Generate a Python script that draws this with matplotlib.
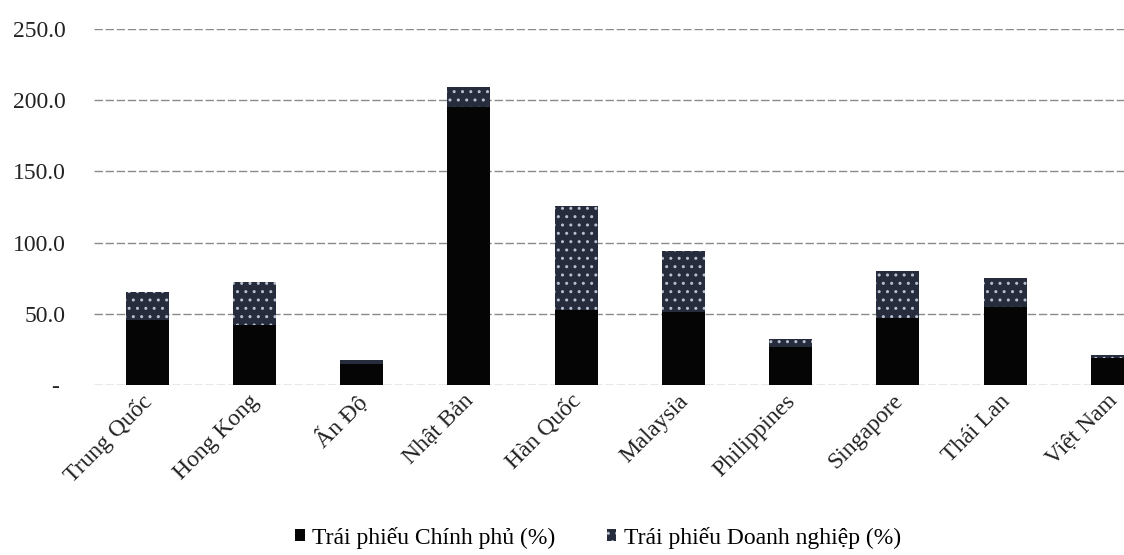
import numpy as np
import matplotlib
matplotlib.use("Agg")
import matplotlib.pyplot as plt
import matplotlib.transforms as mtransforms
from matplotlib.ticker import FuncFormatter

plt.rcParams['font.family'] = ['Liberation Serif', 'DejaVu Serif']

# du lieu doc tu hinh
countries = ['Trung Quốc', 'Hong Kong', 'Ấn Độ', 'Nhật Bản', 'Hàn Quốc',
             'Malaysia', 'Philippines', 'Singapore', 'Thái Lan', 'Việt Nam']
gov = [45.5, 42.0, 15.0, 195.0, 52.5, 51.0, 27.0, 47.0, 55.0, 19.0]
corp = [19.5, 30.0, 2.5, 14.0, 73.0, 43.0, 5.0, 33.0, 20.0, 2.0]
yticks = [0, 50, 100, 150, 200, 250]
legend_labels = ['Trái phiếu Chính phủ (%)', 'Trái phiếu Doanh nghiệp (%)']

fig = plt.figure(figsize=(11.24, 5.55), dpi=100)
ax = fig.add_axes([93.5/1124, 1-385/555, 1072.5/1124, (385-29)/555])

x = np.arange(len(countries))
ax.bar(x, gov, width=0.4, color='#050505', label=legend_labels[0], zorder=3)
ax.bar(x, corp, width=0.4, bottom=gov, color='#262c3c', edgecolor='#b8c0d0',
       linewidth=0, hatch='..', label=legend_labels[1], zorder=3)

ax.set_xlim(-0.5, len(countries) - 0.5)
ax.set_ylim(0, 250)
ax.set_yticks(yticks)
ax.yaxis.set_major_formatter(FuncFormatter(lambda v, p: '- ' if v == 0 else '%.1f' % v))
ax.yaxis.grid(True, color='#8a8a8a', linewidth=1.0, linestyle=(0, (6, 2)), zorder=0)
ax.set_axisbelow(True)
for s in ax.spines.values():
    s.set_visible(False)
ax.tick_params(axis='y', length=0, pad=20, labelsize=17, labelcolor='#222222')
ax.tick_params(axis='x', length=0, pad=4, labelsize=17, labelcolor='#222222')
ax.set_xticks(x)
ax.set_xticklabels(countries, rotation=45, ha='right', rotation_mode='anchor')
# dich nhan sang trai mot chut
shift = mtransforms.ScaledTranslation(-6/100, 0, fig.dpi_scale_trans)
for lab in ax.get_xticklabels():
    lab.set_transform(lab.get_transform() + shift)

fig.legend(loc='center', bbox_to_anchor=(0.532, 0.031), ncol=2, frameon=False,
           fontsize=17, handlelength=0.4, handleheight=0.4, handletextpad=0.3,
           columnspacing=2.2)

fig.savefig('out.png', dpi=100)
